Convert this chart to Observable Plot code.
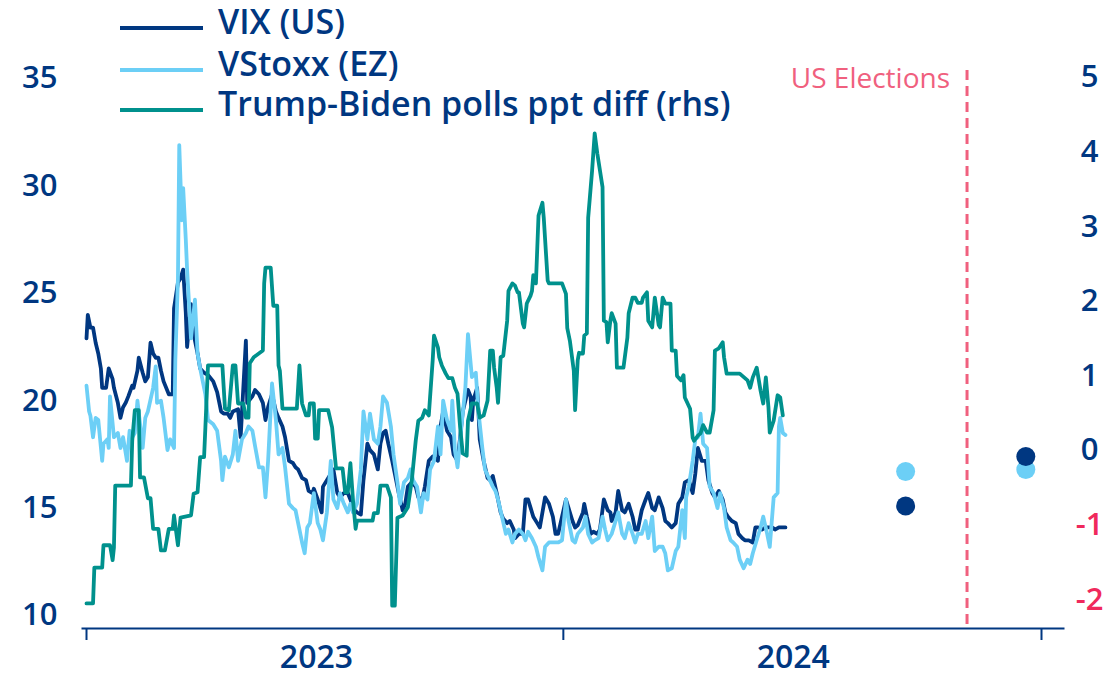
<!DOCTYPE html>
<html><head><meta charset="utf-8">
<script src="https://cdn.jsdelivr.net/npm/d3@7"></script>
<script src="https://cdn.jsdelivr.net/npm/@observablehq/plot@0.6"></script>
<style>
html,body{margin:0;padding:0;background:#fff;}
#wrap{position:relative;width:1109px;height:678px;overflow:hidden;}
#legend{position:absolute;left:0;top:0;}
</style></head><body><div id="wrap"></div>
<script>
const FONT = '"Open Sans", sans-serif';
const NAVY = "#003781", LIGHT = "#6ccff6", TEAL = "#00918d", PINK = "#f0607e", RED = "#f0295c";

// day offsets from 2023-01-01, value
const startDate = "2023-01-01";
const vix = [[0,22.9],[1,24.0],[3,23.4],[5,23.4],[7,22.7],[9,22.2],[11,21.5],[12,20.6],[15,20.6],[17,21.5],[20,21.0],[21,20.6],[24,19.9],[26,19.2],[28,19.7],[30,19.9],[32,20.2],[35,20.7],[36,20.6],[39,21.4],[40,22.0],[43,21.3],[45,20.9],[47,21.1],[49,22.7],[51,22.2],[53,22.0],[55,22.0],[57,21.4],[59,20.9],[63,20.3],[66,20.3],[67,24.3],[70,25.5],[72,25.7],[74,26.1],[76,24.1],[77,22.5],[80,24.5],[82,23.1],[85,22.2],[87,21.5],[90,21.3],[93,21.2],[97,20.9],[100,20.4],[103,19.5],[105,19.4],[108,19.4],[110,19.2],[112,19.5],[116,19.6],[118,18.3],[122,22.8],[123,19.9],[127,20.2],[129,20.5],[132,20.3],[135,19.9],[137,19.1],[139,19.7],[142,20.3],[145,19.5],[147,19.2],[150,18.8],[152,18.3],[155,17.2],[158,17.1],[160,16.9],[162,16.8],[165,16.4],[168,16.3],[170,15.8],[173,15.7],[174,15.9],[177,15.4],[179,15.0],[180,14.8],[181,16.0],[184,16.3],[187,16.6],[189,16.8],[192,15.7],[194,15.5],[197,15.7],[200,15.7],[202,15.4],[204,15.0],[207,14.8],[210,14.7],[212,16.3],[215,18.0],[217,17.7],[220,17.5],[223,16.8],[225,18.0],[227,18.5],[229,18.6],[231,18.0],[234,17.2],[236,16.6],[239,15.7],[242,14.9],[244,15.2],[246,16.0],[249,16.2],[252,16.0],[254,15.5],[257,15.4],[259,16.0],[262,17.2],[265,17.4],[269,17.2],[271,18.8],[273,19.5],[276,18.6],[279,18.3],[281,17.5],[284,17.2],[286,18.3],[288,19.5],[292,20.5],[294,20.2],[295,19.1],[296,20.0],[299,20.6],[300,19.5],[301,18.2],[304,17.2],[307,16.4],[309,16.3],[311,16.5],[314,15.7],[317,14.8],[319,14.5],[322,14.3],[324,14.4],[327,14.0],[328,13.6],[331,13.8],[334,13.8],[336,15.4],[338,15.4],[340,15.0],[342,14.6],[345,14.3],[347,14.1],[351,15.5],[354,15.2],[357,14.6],[359,13.8],[361,13.8],[364,14.6],[367,15.4],[369,15.0],[372,14.4],[374,14.1],[376,14.2],[380,14.8],[381,15.2],[383,14.6],[386,13.8],[388,13.9],[391,13.8],[393,14.0],[396,15.4],[399,14.9],[401,14.8],[402,14.4],[405,14.8],[407,15.8],[410,14.9],[412,14.8],[415,15.2],[418,14.6],[420,14.0],[422,14.0],[425,14.9],[428,15.4],[430,15.7],[433,15.0],[435,14.9],[438,15.5],[441,15.0],[443,14.4],[445,14.3],[448,14.1],[451,14.3],[453,15.2],[456,15.5],[458,16.2],[461,16.3],[464,15.7],[466,16.6],[468,17.8],[471,17.2],[474,17.2],[476,16.3],[479,15.7],[481,15.5],[484,15.8],[487,15.4],[489,14.8],[491,14.6],[494,14.4],[497,14.3],[499,13.8],[502,13.6],[504,13.5],[507,13.5],[510,13.4],[512,14.1],[514,14.1],[517,14.0],[520,14.1],[522,14.1],[525,14.1],[527,14.0],[530,14.1],[535,14.1]];

const vstoxx = [[0,20.7],[2,19.5],[3,19.3],[5,18.3],[7,19.2],[9,19.1],[12,17.2],[13,18.0],[16,18.2],[17,17.8],[18,20.2],[21,18.3],[24,18.5],[26,17.8],[28,18.3],[31,17.2],[33,18.6],[35,18.3],[37,18.5],[39,20.0],[41,18.9],[43,17.8],[45,19.2],[47,19.5],[51,20.6],[53,21.6],[54,19.9],[57,20.0],[59,19.2],[62,17.7],[64,18.2],[67,17.8],[68,21.9],[70,25.7],[71,31.9],[73,28.4],[74,29.9],[76,27.5],[77,26.1],[80,22.9],[83,24.7],[85,22.2],[87,21.5],[91,20.3],[93,19.1],[97,18.9],[100,18.6],[103,17.2],[104,16.3],[106,17.4],[109,16.9],[112,17.5],[114,18.6],[116,17.2],[119,18.2],[122,18.5],[124,18.8],[127,18.6],[129,17.9],[132,16.9],[135,16.9],[137,15.5],[139,17.2],[142,20.8],[145,19.1],[147,17.5],[150,17.8],[152,16.9],[155,15.2],[158,15.0],[160,14.9],[162,14.3],[165,13.4],[167,12.9],[169,14.1],[171,14.3],[174,15.7],[177,14.3],[179,14.0],[181,13.5],[184,14.8],[187,17.2],[189,15.4],[192,15.0],[194,15.7],[197,15.2],[200,14.8],[202,15.2],[204,14.8],[207,15.2],[210,16.8],[212,19.5],[215,18.2],[217,19.4],[220,18.2],[223,18.0],[225,18.8],[227,20.2],[230,19.9],[233,18.8],[235,17.5],[238,16.2],[240,15.2],[243,16.2],[246,16.4],[248,16.8],[250,16.3],[253,16.0],[256,14.8],[258,15.7],[261,15.4],[263,16.8],[266,17.2],[269,18.8],[271,17.5],[273,20.0],[276,19.1],[279,18.6],[280,20.0],[282,17.7],[284,16.9],[287,18.8],[290,20.6],[292,23.1],[295,21.1],[298,21.3],[300,19.5],[303,17.8],[305,16.8],[308,16.4],[311,16.0],[313,15.8],[315,15.4],[318,14.6],[321,13.8],[323,14.0],[326,13.4],[328,13.8],[331,14.0],[334,13.8],[336,13.5],[338,13.9],[341,13.6],[344,13.2],[346,12.7],[349,12.1],[351,13.2],[354,13.4],[357,13.4],[361,13.4],[364,13.5],[367,15.4],[369,14.4],[372,13.5],[374,13.4],[376,13.8],[380,14.1],[382,14.6],[384,13.8],[387,13.4],[389,13.5],[392,13.6],[395,14.6],[397,14.0],[399,13.5],[402,13.8],[405,14.4],[407,14.8],[410,13.8],[412,13.6],[415,14.3],[418,13.8],[420,13.4],[422,13.8],[425,13.8],[428,14.4],[430,13.6],[433,14.6],[435,13.0],[438,13.2],[441,13.2],[443,12.9],[445,12.1],[448,12.2],[451,13.0],[453,13.2],[456,14.9],[458,13.6],[459,15.5],[461,16.0],[464,17.2],[466,18.2],[468,18.3],[470,19.4],[472,18.0],[475,17.8],[477,16.0],[480,15.7],[483,15.0],[485,15.7],[488,15.0],[490,14.1],[493,13.5],[495,13.4],[498,13.2],[500,12.6],[503,12.2],[506,12.6],[508,12.4],[510,12.9],[513,13.5],[516,14.1],[518,14.6],[521,13.8],[523,13.2],[526,15.5],[529,15.7],[530,18.8],[531,19.2],[533,18.5],[535,18.4]];

const polls = [[0,-2.05],[5,-2.05],[6,-1.57],[12,-1.57],[13,-1.27],[18,-1.27],[20,-1.47],[21,-1.3],[22,-0.47],[34,-0.47],[35,0.13],[37,0.54],[40,0.54],[41,-0.36],[44,-0.36],[47,-0.64],[49,-0.64],[51,-1.05],[55,-1.05],[57,-1.34],[60,-1.34],[63,-1.05],[66,-1.05],[67,-0.87],[70,-1.27],[72,-0.9],[80,-0.87],[82,-0.58],[85,-0.56],[87,-0.09],[90,-0.09],[91,0.31],[93,1.14],[104,1.14],[106,0.56],[109,0.54],[112,1.14],[114,1.14],[116,0.63],[120,0.63],[122,0.44],[124,0.44],[125,1.17],[128,1.25],[135,1.34],[136,2.24],[137,2.45],[141,2.45],[143,1.94],[146,1.94],[147,1.14],[148,1.07],[150,0.56],[161,0.56],[163,1.14],[165,0.63],[168,0.47],[170,0.47],[171,0.63],[174,0.63],[175,0.16],[177,0.16],[178,0.54],[185,0.54],[188,0.31],[191,-0.24],[196,-0.24],[198,-0.56],[200,-0.56],[202,-0.17],[204,-0.67],[206,-1.05],[207,-0.94],[219,-0.94],[220,-0.84],[223,-0.84],[225,-0.47],[230,-0.47],[233,-0.63],[234,-2.08],[236,-2.08],[238,-0.9],[242,-0.87],[246,-0.76],[249,-0.4],[252,0.13],[254,0.4],[257,0.44],[259,0.54],[262,0.47],[265,1.21],[266,1.54],[269,1.38],[270,1.25],[272,1.14],[275,1.03],[277,0.97],[280,0.97],[282,0.84],[284,0.76],[286,0.31],[288,-0.04],[291,-0.07],[292,0.4],[295,0.63],[299,0.63],[301,0.44],[304,0.47],[307,0.67],[309,1.34],[311,1.34],[312,1.11],[314,0.84],[315,0.64],[317,1.25],[319,1.27],[322,1.74],[323,2.14],[326,2.24],[328,2.21],[330,2.12],[331,2.12],[334,1.7],[335,1.65],[337,1.97],[340,2.08],[341,2.14],[342,2.35],[344,2.24],[346,3.15],[349,3.32],[350,3.12],[353,2.28],[354,2.24],[364,2.24],[367,2.1],[368,1.64],[370,1.47],[373,1.07],[374,0.54],[376,1.21],[377,1.31],[380,1.3],[381,1.54],[383,1.57],[384,3.12],[387,3.75],[389,4.25],[391,3.98],[395,3.53],[396,1.74],[398,1.72],[399,1.45],[401,1.74],[402,1.84],[405,1.7],[406,1.11],[411,1.11],[414,1.51],[415,1.84],[418,2.05],[420,2.05],[422,1.98],[425,1.98],[426,2.05],[429,2.12],[430,1.74],[433,1.65],[435,2.05],[438,1.68],[439,1.65],[441,2.05],[443,1.97],[447,1.97],[448,1.34],[451,1.34],[452,1.0],[455,0.94],[457,1.01],[458,0.71],[462,0.56],[464,0.17],[465,0.13],[468,0.2],[470,0.23],[472,0.34],[475,0.24],[477,0.24],[480,0.54],[481,1.34],[484,1.37],[487,1.45],[488,1.25],[490,1.03],[493,1.03],[500,1.03],[506,0.94],[508,0.84],[510,0.98],[513,1.11],[516,0.8],[518,0.63],[520,0.98],[522,0.58],[523,0.24],[526,0.4],[529,0.74],[531,0.71],[533,0.47]];

const futureDates = ["2024-09-19", "2024-12-20"];
const vixFutures = [15.1, 17.4];
const vstoxxFutures = [16.7, 16.8];

const electionDate = "2024-11-05";
const electionLabel = "US Elections";
const seriesNames = ["VIX (US)", "VStoxx (EZ)", "Trump-Biden polls ppt diff (rhs)"];
const seriesColors = [NAVY, LIGHT, TEAL];

const leftTicks = [10, 15, 20, 25, 30, 35];
const rightTicks = [-2, -1, 0, 1, 2, 3, 4, 5];
const yearTicks = ["2023-01-01", "2024-01-01", "2025-01-01"];
const yearLabelDates = ["2023-06-26", "2024-06-25"];

// right-hand axis: rhs value -> left-axis units (axes aligned as in the original)
const rhsToLhs = v => 17.682 + 3.473 * v;
const lhsToRhs = y => Math.round((y - 17.682) / 3.473);

const parse = s => new Date(s + "T00:00:00Z");
const day0 = parse(startDate);
const toDate = d => new Date(day0.getTime() + d * 864e5);

const vixData = vix.map(([d, v]) => ({date: toDate(d), value: v}));
const vstoxxData = vstoxx.map(([d, v]) => ({date: toDate(d), value: v}));
const pollData = polls.map(([d, v]) => ({date: toDate(d), value: rhsToLhs(v)}));
const futures = futureDates.flatMap((s, i) => [
  {date: parse(s), value: vstoxxFutures[i], color: LIGHT},
  {date: parse(s), value: vixFutures[i], color: NAVY}
]);

const W = 600;
const chart = Plot.plot({
  width: 1109, height: 678,
  marginTop: 70, marginBottom: 50, marginLeft: 82, marginRight: 46,
  style: {fontFamily: FONT, color: NAVY, background: "#fff", overflow: "visible"},
  x: {type: "utc", domain: [parse("2023-01-01"), parse("2025-01-01")], range: [86, 1041]},
  y: {domain: [10, 35], range: [615, 78]},
  marks: [
    Plot.frame({anchor: "bottom", stroke: NAVY, strokeWidth: 2, strokeOpacity: 1}),
    Plot.axisX(yearTicks.map(parse), {tickSize: 12, tickFormat: () => "", stroke: NAVY, strokeWidth: 2, strokeOpacity: 1}),
    Plot.axisX(yearLabelDates.map(parse), {tickSize: 0, tickPadding: 17, tickFormat: d => String(d.getUTCFullYear()), fill: NAVY, fontSize: 32, fontWeight: W, label: null}),
    Plot.axisY(leftTicks, {anchor: "left", tickSize: 0, tickPadding: 25, fill: NAVY, fontSize: 31, fontWeight: W, label: null}),
    Plot.axisY(rightTicks.filter(v => v >= 0).map(rhsToLhs), {anchor: "right", tickSize: 0, tickPadding: 26, textAnchor: "middle", tickFormat: d => String(lhsToRhs(d)), fill: NAVY, fontSize: 31, fontWeight: W, label: null}),
    Plot.axisY(rightTicks.filter(v => v < 0).map(rhsToLhs), {anchor: "right", tickSize: 0, tickPadding: 26, textAnchor: "middle", tickFormat: d => String(lhsToRhs(d)), fill: RED, fontSize: 31, fontWeight: W, label: null}),
    Plot.ruleX([parse(electionDate)], {stroke: PINK, strokeWidth: 3, strokeDasharray: "10,6"}),
    Plot.text([electionLabel], {x: () => parse(electionDate), y: () => 35, text: d => d, textAnchor: "end", dx: -17, dy: 1, fill: PINK, fontSize: 28, fontWeight: 500}),
    Plot.line(vixData, {x: "date", y: "value", stroke: NAVY, strokeWidth: 3.8}),
    Plot.line(vstoxxData, {x: "date", y: "value", stroke: LIGHT, strokeWidth: 3.8}),
    Plot.line(pollData, {x: "date", y: "value", stroke: TEAL, strokeWidth: 3.8}),
    Plot.dot(futures, {x: "date", y: "value", r: 9.5, fill: "color", stroke: null})
  ]
});

const wrap = document.getElementById("wrap");
wrap.appendChild(chart);

// legend overlay
const leg = d3.select(wrap).append("svg").attr("id", "legend").attr("width", 800).attr("height", 130);
const rowY = [28, 70, 110];
seriesNames.forEach((name, i) => {
  leg.append("line").attr("x1", 120).attr("x2", 203).attr("y1", rowY[i]).attr("y2", rowY[i])
    .attr("stroke", seriesColors[i]).attr("stroke-width", 4);
  leg.append("text").attr("x", 218).attr("y", rowY[i] + 6).attr("fill", NAVY)
    .attr("font-family", FONT).attr("font-size", 34).attr("font-weight", W).text(name);
});
</script></body></html>
